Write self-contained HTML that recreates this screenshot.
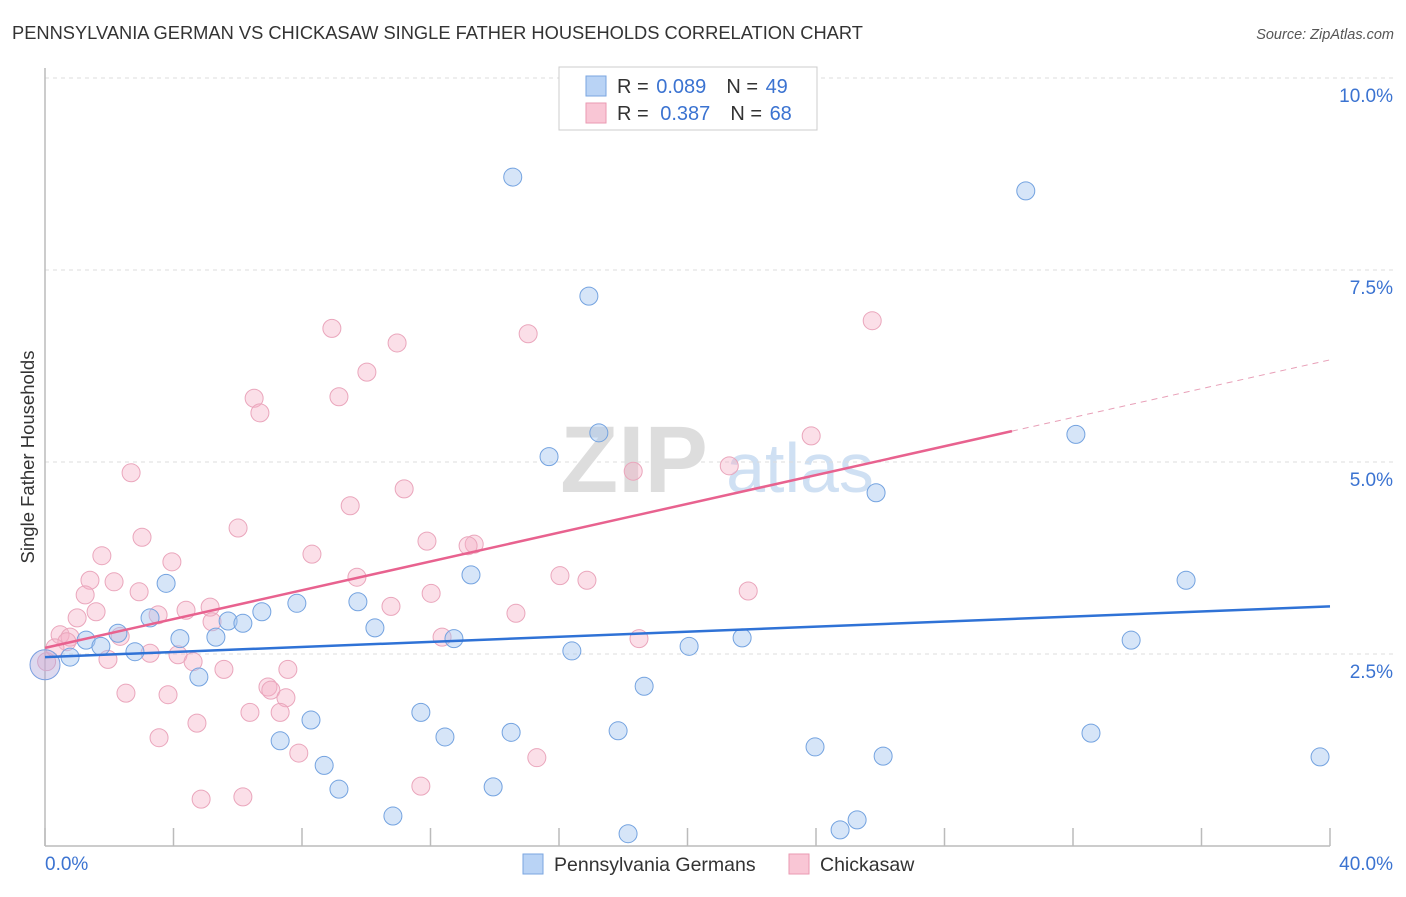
<!DOCTYPE html>
<html><head><meta charset="utf-8"><style>
body{margin:0;background:#fff;font-family:"Liberation Sans",sans-serif;}
svg text{font-family:"Liberation Sans",sans-serif;}
</style></head><body>
<svg id="c" width="1406" height="892">
<text x="12" y="39" font-size="18.3" fill="#333">PENNSYLVANIA GERMAN VS CHICKASAW SINGLE FATHER HOUSEHOLDS CORRELATION CHART</text>
<text x="1394" y="39" font-size="14.5" fill="#555" text-anchor="end" font-style="italic">Source: ZipAtlas.com</text>
<text x="634" y="492" font-size="95" fill="#ddd" text-anchor="middle" font-weight="bold">ZIP</text>
<text x="800" y="492" font-size="70" fill="#cfe0f3" text-anchor="middle">atlas</text>
<g id="grid"></g><g id="axes"></g><g id="pts"></g><g id="lines"></g>
<text transform="translate(34,457) rotate(-90)" font-size="18.5" fill="#333" text-anchor="middle">Single Father Households</text>
<text x="45" y="870" font-size="19" fill="#3b73d1">0.0%</text>
<text x="1393" y="870" font-size="19" fill="#3b73d1" text-anchor="end">40.0%</text>
<g>
<rect x="559" y="67" width="258" height="63" fill="#fff" stroke="#ccc"/>
<rect x="586" y="76" width="20" height="20" fill="#b9d3f5" stroke="#7aa6e0"/>
<rect x="586" y="103" width="20" height="20" fill="#f9c6d5" stroke="#ea9ab2"/>
<text x="617" y="93" font-size="20" fill="#333">R = <tspan dx="2" fill="#3b73d1">0.089</tspan><tspan dx="20">N = </tspan><tspan dx="2" fill="#3b73d1">49</tspan></text>
<text x="617" y="120" font-size="20" fill="#333">R = <tspan dx="6" fill="#3b73d1">0.387</tspan><tspan dx="20">N = </tspan><tspan dx="2" fill="#3b73d1">68</tspan></text>
</g>
<g>
<rect x="523" y="854" width="20" height="20" fill="#b9d3f5" stroke="#7aa6e0"/>
<text x="554" y="871" font-size="19.5" fill="#333">Pennsylvania Germans</text>
<rect x="789" y="854" width="20" height="20" fill="#f9c6d5" stroke="#ea9ab2"/>
<text x="820" y="871" font-size="19.5" fill="#333">Chickasaw</text>
</g>
</svg>
<script>
const yTicks=[2.5,5.0,7.5,10.0];
const xTicks=[0,4,8,12,16,20,24,28,32,36,40];
const blueX=[14.56,30.53,16.93,17.24,15.69,32.09,25.87,13.26,35.52,3.77,9.74,7.84,6.75,3.27,5.70,6.16,10.27,2.27,1.28,4.20,5.32,12.73,21.70,33.81,1.74,20.05,16.40,2.80,0.78,4.79,18.65,11.70,8.28,7.32,12.45,14.51,17.84,23.97,32.56,26.09,39.69,8.69,9.15,13.95,10.83,25.28,24.75,18.15];
const blueY=[8.71,8.53,7.16,5.38,5.07,5.36,4.60,3.53,3.46,3.42,3.18,3.16,3.05,2.97,2.93,2.90,2.84,2.77,2.68,2.70,2.72,2.70,2.71,2.68,2.60,2.60,2.54,2.53,2.46,2.20,2.08,1.74,1.64,1.37,1.42,1.48,1.50,1.29,1.47,1.17,1.16,1.05,0.74,0.77,0.39,0.34,0.21,0.16];
const pinkX=[8.93,15.04,25.75,10.96,10.02,6.51,9.15,6.69,23.85,18.31,21.30,2.68,11.18,9.50,6.01,3.02,11.89,13.36,13.17,1.77,8.31,3.95,9.71,16.03,16.87,1.40,2.15,2.93,1.25,12.02,21.89,4.39,5.14,1.59,10.77,14.66,3.52,1.00,5.20,2.34,0.47,0.78,12.36,18.49,0.68,0.31,3.27,4.14,1.96,4.61,0.05,5.57,7.56,2.52,3.83,6.94,7.03,7.50,6.38,7.32,4.73,3.55,7.90,15.31,11.70,4.86,6.16];
const pinkY=[6.74,6.67,6.84,6.55,6.17,5.83,5.85,5.64,5.34,4.88,4.95,4.86,4.65,4.43,4.14,4.02,3.97,3.93,3.91,3.78,3.80,3.70,3.50,3.52,3.46,3.46,3.44,3.31,3.27,3.29,3.32,3.07,3.11,3.05,3.12,3.03,3.01,2.97,2.92,2.73,2.75,2.72,2.72,2.70,2.66,2.58,2.51,2.49,2.43,2.40,2.40,2.30,2.30,1.99,1.97,2.07,2.03,1.93,1.74,1.74,1.60,1.41,1.21,1.15,0.78,0.61,0.64];
const blueTrend=[2.46,3.12];   // value at x=0, x=40
const pinkTrend=[2.58,6.33];
const X=v=>45+v/40*1285, Y=v=>846-v/2.5*192;
const NS='http://www.w3.org/2000/svg';
function mk(p,t,a){const e=document.createElementNS(NS,t);for(const k in a)e.setAttribute(k,a[k]);p.appendChild(e);return e;}
const grid=document.getElementById('grid'),axes=document.getElementById('axes'),pts=document.getElementById('pts'),lines=document.getElementById('lines');
yTicks.forEach(v=>{
 const l=mk(grid,'line',{x1:45,x2:1393,y1:Y(v),y2:Y(v),stroke:'#ddd','stroke-dasharray':'4,4'});
 
 
 const t=mk(grid,'text',{x:1393,y:Y(v)+24,'font-size':19,fill:'#3b73d1','text-anchor':'end'});
 t.textContent=v.toFixed(1)+'%';
 
 
});
mk(axes,'line',{x1:45,x2:45,y1:68,y2:846,stroke:'#bbb','stroke-width':1.5});
mk(axes,'line',{x1:45,x2:1330,y1:846,y2:846,stroke:'#bbb','stroke-width':1.5});
xTicks.forEach(v=>{
 const l=mk(axes,'line',{x1:X(v),x2:X(v),y1:828,y2:846,stroke:'#bbb','stroke-width':1.5});
 
 
});
pinkX.forEach((x,i)=>{
 const c=mk(pts,'circle',{cx:X(x),cy:Y(pinkY[i]),r:9,fill:'rgba(245,175,198,0.4)',stroke:'#eaa6bc','stroke-width':1});
 
 
});
blueX.forEach((x,i)=>{
 const c=mk(pts,'circle',{cx:X(x),cy:Y(blueY[i]),r:9,fill:'rgba(165,198,240,0.45)',stroke:'#74a3e0','stroke-width':1});
 
 
});
const big=mk(pts,'circle',{cx:X(0),cy:Y(2.36),r:15,fill:'rgba(180,170,220,0.45)',stroke:'#7a9fe0','stroke-width':1});


const bl=mk(lines,'line',{x1:X(0),y1:Y(blueTrend[0]),x2:X(40),y2:Y(blueTrend[1]),stroke:'#2f72d6','stroke-width':2.5});


const pAt=x=>pinkTrend[0]+(pinkTrend[1]-pinkTrend[0])*x/40;
const pl=mk(lines,'line',{x1:X(0),y1:Y(pAt(0)),x2:X(30.1),y2:Y(pAt(30.1)),stroke:'#e8628f','stroke-width':2.5});


const pd=mk(lines,'line',{x1:X(30.1),y1:Y(pAt(30.1)),x2:X(40),y2:Y(pAt(40)),stroke:'#e8a0b8','stroke-width':1,'stroke-dasharray':'6,5'});


</script>
</body></html>
